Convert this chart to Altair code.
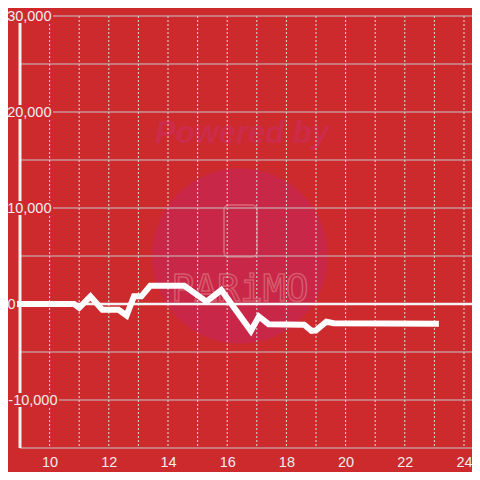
import altair as alt
import pandas as pd

# ---- data ----
line_x = [9.0, 10.83, 11.0, 11.38, 11.78, 12.33, 12.6, 12.85, 13.1, 13.4, 14.55,
          15.3, 15.8, 16.8, 17.07, 17.4, 18.6, 18.85, 19.0, 19.35, 19.6, 23.05]
line_y = [0, 0, -400, 800, -600, -600, -1200, 800, 800, 1900, 1900,
          250, 1450, -2800, -1300, -2100, -2150, -2800, -2750, -1850, -2000, -2050]

y_grid = [-15000, -10000, -5000, 5000, 10000, 15000, 20000, 25000, 30000]
y_labels = [-10000, 0, 10000, 20000, 30000]
x_ticks = list(range(10, 25))

BG = "#cd2a2e"
W, H = 452, 432
PXU = 29.6
XDOM = [9, 9 + W / PXU]
YDOM = [-15000, 30000]

xs = alt.Scale(domain=XDOM, nice=False, zero=False)
ys = alt.Scale(domain=YDOM, nice=False, zero=False)

line_df = pd.DataFrame({"x": line_x, "y": line_y})
ygrid_df = pd.DataFrame({"v": y_grid})
xgrid_df = pd.DataFrame({"t": x_ticks})
pos_lab_df = pd.DataFrame({"v": [v for v in y_labels if v > 0]})
neg_lab_df = pd.DataFrame({"v": [v for v in y_labels if v < 0]})

base = alt.Chart(line_df)

# watermark
circle = alt.Chart(pd.DataFrame({"a": [1]})).mark_circle(
    size=30790, color="#c92748", opacity=1
).encode(x=alt.value(220), y=alt.value(240))

powered = alt.Chart(pd.DataFrame({"t": ["Powered by"]})).mark_text(
    font="Liberation Sans", fontSize=31, fontWeight="bold", fontStyle="italic",
    color="#cc2b4b", align="center", baseline="alphabetic"
).encode(x=alt.value(222), y=alt.value(127), text="t:N")

phone = alt.Chart(pd.DataFrame({"a": [1]})).mark_rect(
    fillOpacity=0, stroke="#d65a6c", strokeWidth=2, cornerRadius=5
).encode(x=alt.value(204), x2=alt.value(237), y=alt.value(189), y2=alt.value(241))

brand = alt.Chart(pd.DataFrame({"t": ["PARiMO"]})).mark_text(
    font="DejaVu Sans Mono", fontSize=38, color="#c92748", stroke="#d65a6c",
    strokeWidth=1.5, align="center", baseline="top"
).encode(x=alt.value(220), y=alt.value(255), text="t:N")

# grid
vgrid = alt.Chart(xgrid_df).mark_rule(
    color="#dddddd", strokeWidth=1, strokeDash=[2, 2]
).encode(x=alt.X("t:Q", scale=xs), y=alt.value(0), y2=alt.value(H))

hgrid = alt.Chart(ygrid_df).mark_rule(color="#c8c8c8", strokeWidth=1).encode(
    y=alt.Y("v:Q", scale=ys), x=alt.value(0), x2=alt.value(W)
)

zero = alt.Chart(pd.DataFrame({"v": [0]})).mark_rule(color="#f4f4f4", strokeWidth=2.6).encode(
    y=alt.Y("v:Q", scale=ys), x=alt.value(0), x2=alt.value(W)
)

yaxis_line = alt.Chart(pd.DataFrame({"v": [YDOM[0]], "v2": [YDOM[1]]})).mark_rule(
    color="#f2f2f2", strokeWidth=3
).encode(x=alt.value(0), y=alt.Y("v:Q", scale=ys), y2="v2:Q")

pos_bg = alt.Chart(pos_lab_df).transform_calculate(
    lo="datum.v - 720", hi="datum.v + 720"
).mark_rect(color=BG).encode(
    x=alt.value(-12), x2=alt.value(33),
    y=alt.Y("lo:Q", scale=ys), y2="hi:Q"
)
neg_bg = alt.Chart(neg_lab_df).transform_calculate(
    lo="datum.v - 720", hi="datum.v + 720"
).mark_rect(color=BG).encode(
    x=alt.value(-12), x2=alt.value(39),
    y=alt.Y("lo:Q", scale=ys), y2="hi:Q"
)

data_line = base.mark_line(color="white", strokeWidth=6, strokeCap="square").encode(
    x=alt.X("x:Q", scale=xs,
            axis=alt.Axis(values=x_ticks, grid=False, ticks=False, domain=False,
                          labelColor="#eeeeee", labelFontSize=14.5,
                          labelFont="Liberation Sans", labelPadding=7, title=None,
                          labelFlush=False)),
    y=alt.Y("y:Q", scale=ys,
            axis=alt.Axis(values=y_labels, grid=False, ticks=False, domain=False,
                          labelColor="#eeeeee", labelFontSize=14.5,
                          labelFont="Liberation Sans", title=None,
                          labelExpr="datum.value < 0 ? '-' + format(-datum.value, ',d') : format(datum.value, ',d')",
                          labelPadding={"condition": [
                              {"test": "datum.value == 0", "value": 5},
                              {"test": "datum.value < 0", "value": -37}],
                              "value": -31},
                          labelFlush=False, zindex=1)),
)

chart = alt.layer(
    circle, powered, phone, brand, vgrid, hgrid, yaxis_line, zero, pos_bg, neg_bg, data_line
).properties(
    width=W, height=H, background=BG,
    padding={"left": 12, "top": 8, "right": 0, "bottom": 24},
    autosize=alt.AutoSizeParams(type="none"),
).configure_view(strokeWidth=0)

chart.save("out.html", embed_options={"renderer": "svg", "actions": False})
